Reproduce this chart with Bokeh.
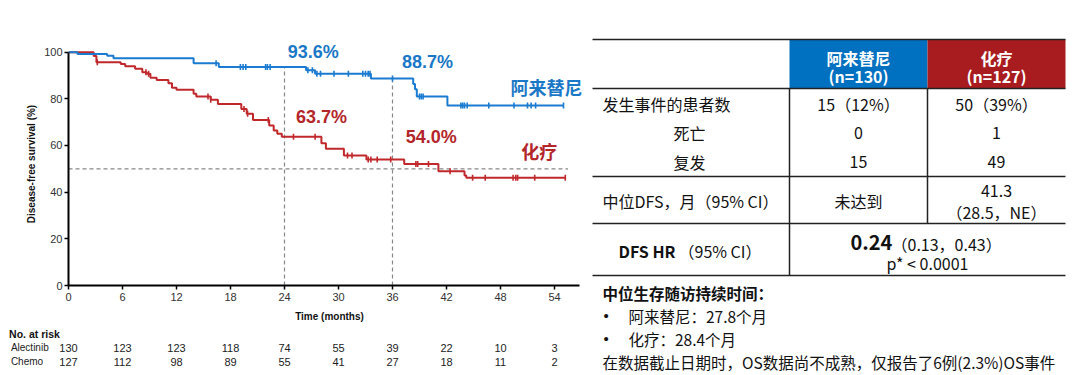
import numpy as np
from bokeh.plotting import figure
from bokeh.layouts import row, column
from bokeh.models import Range1d, FixedTicker
from bokeh.core.properties import value
from bokeh.embed import file_html
from bokeh.resources import INLINE

# ---------------- data ----------------
alec_t = [0, 1.0, 4.3, 5.0, 13.9, 16.7, 26.4, 27.4, 33.6, 38.3, 38.5, 38.7, 42.1, 55.0]
alec_s = [100, 99.2, 98.5, 97.4, 95.3, 93.6, 92.2, 90.8, 88.7, 86.4, 84.1, 81.0, 77.1, 77.1]
alec_cens = [16.4, 19.1, 19.4, 19.7, 21.9, 22.1, 22.4, 26.6, 27.1, 27.6, 28.0, 29.5, 31.1,
             32.7, 33.0, 33.3, 33.5, 36.0, 39.0, 39.2, 39.4, 43.6, 43.8, 44.0, 44.3, 46.7,
             49.5, 51.0, 51.4, 51.9, 55.0]

chemo_t = [0, 2.8, 3.1, 5.8, 6.3, 7.4, 8.2, 8.7, 9.1, 9.8, 11.1, 11.5, 12.0, 13.9, 14.2,
           15.8, 16.6, 19.2, 19.8, 20.5, 22.3, 22.8, 23.2, 23.7, 28.1, 28.6, 30.6, 33.1,
           37.3, 41.1, 44.0, 44.2, 55.2]
chemo_s = [100, 98.4, 95.7, 94.9, 94.0, 92.9, 91.4, 90.7, 89.0, 88.1, 86.7, 84.7, 83.9, 82.2,
           81.0, 79.6, 77.8, 75.6, 73.6, 70.9, 68.6, 66.4, 65.0, 63.7, 61.0, 58.6, 55.7, 54.0,
           52.1, 49.0, 47.1, 46.2, 46.2]
chemo_cens = [3.2, 8.6, 8.9, 15.5, 15.8, 19.5, 19.9, 22.2, 25.0, 27.4, 31.0, 31.5, 33.3,
              33.6, 34.3, 35.8, 38.6, 38.8, 40.0, 42.4, 44.9, 46.3, 49.4, 49.7, 49.9, 51.8, 55.2]

milestone_t = [24, 36]
alec_milestone = [93.6, 88.7]
chemo_milestone = [63.7, 54.0]
median_line = 50

risk_times = [0, 6, 12, 18, 24, 30, 36, 42, 48, 54]
risk_alec = [130, 123, 123, 118, 74, 55, 39, 22, 10, 3]
risk_chemo = [127, 112, 98, 89, 55, 41, 27, 18, 11, 2]

arm_names = ["阿来替尼", "化疗"]
arm_n = ["(n=130)", "(n=127)"]
row_labels = ["发生事件的患者数", "死亡", "复发", "中位DFS，月（95% CI）"]
events_all = ["15（12%）", "50（39%）"]
deaths = ["0", "1"]
relapses = ["15", "49"]
median_dfs = ["未达到", "41.3", "（28.5，NE）"]
hr_label = ["DFS HR", "（95% CI）"]
hr_value = ["0.24", "（0.13，0.43）"]
p_value = "p* < 0.0001"
notes_title = "中位生存随访持续时间："
notes_bullets = ["阿来替尼：27.8个月", "化疗：28.4个月"]
notes_last = "在数据截止日期时，OS数据尚不成熟，仅报告了6例(2.3%)OS事件"

BLUE = "#1a7bd0"
BLUE_TXT = "#1a78c6"
RED = "#c0282c"
RED_TXT = "#b3262a"
HDR_BLUE = "#0070c0"
HDR_RED = "#a81c1f"
LAT = "Liberation Sans"
CJK = "Noto Sans CJK SC"


def step_value(ts, ss, x):
    i = np.searchsorted(np.array(ts), np.array(x), side="right") - 1
    return list(np.array(ss)[i])


# ---------------- KM figure ----------------
km = figure(width=590, height=326, x_range=Range1d(0, 58), y_range=Range1d(0, 104.14),
            output_backend="svg", toolbar_location=None,
            min_border_left=68, min_border_right=0, min_border_top=42, min_border_bottom=41)
km.frame_align = False
km.outline_line_color = None
km.grid.visible = False

for ax in (km.xaxis[0], km.yaxis[0]):
    ax.axis_line_width = 2
    ax.axis_line_color = "black"
    ax.major_tick_line_width = 1.5
    ax.major_tick_line_color = "black"
    ax.major_tick_out = 4
    ax.major_tick_in = 0
    ax.minor_tick_line_color = None
    ax.major_label_text_font = LAT
    ax.major_label_text_font_size = "11px"
    ax.major_label_text_color = "#333333"
    ax.axis_label_text_font = LAT
    ax.axis_label_text_font_size = "10px"
    ax.axis_label_text_font_style = "bold"
    ax.axis_label_text_color = "#111111"

km.xaxis.ticker = FixedTicker(ticks=risk_times)
km.xaxis.bounds = (0, 56.8)
km.xaxis.axis_label = "Time (months)"
km.xaxis.major_label_standoff = 3
km.xaxis.axis_label_standoff = 7
km.yaxis.ticker = FixedTicker(ticks=[0, 20, 40, 60, 80, 100])
km.yaxis.bounds = (0, 100)
km.yaxis.axis_label = "Disease-free survival (%)"
km.yaxis.major_label_standoff = 2
km.yaxis.axis_label_standoff = 4

# reference lines
km.segment(x0=[0], y0=[median_line], x1=[55.5], y1=[median_line],
           line_color="#888888", line_dash="4 3", line_width=1.2)
km.segment(x0=milestone_t, y0=[0, 0], x1=milestone_t, y1=alec_milestone,
           line_color="#888888", line_dash="4 3", line_width=1.2)

km.step(chemo_t, chemo_s, mode="after", line_color=RED, line_width=2)
km.step(alec_t, alec_s, mode="after", line_color=BLUE, line_width=2)
km.scatter(chemo_cens, step_value(chemo_t, chemo_s, chemo_cens), marker="dash", angle=np.pi / 2,
           size=6, line_color=RED, line_width=1.6)
km.scatter(alec_cens, step_value(alec_t, alec_s, alec_cens), marker="dash", angle=np.pi / 2,
           size=6, line_color=BLUE, line_width=1.6)

km.text(x=[milestone_t[0] + 3.2, milestone_t[1] + 3.9], y=[alec_milestone[0] + 6.4, alec_milestone[1] + 7.0],
        text=[f"{v:.1f}%" for v in alec_milestone], text_font=value(LAT), text_font_style="bold",
        text_font_size="18px", text_color=BLUE_TXT, text_align="center", text_baseline="middle")
km.text(x=[milestone_t[0] + 4.1, milestone_t[1] + 4.3], y=[chemo_milestone[0] + 8.3, chemo_milestone[1] + 9.6],
        text=[f"{v:.1f}%" for v in chemo_milestone], text_font=value(LAT), text_font_style="bold",
        text_font_size="18px", text_color=RED_TXT, text_align="center", text_baseline="middle")
km.text(x=[53.1], y=[85.0], text=[arm_names[0]], text_font=value(CJK), text_font_style="bold",
        text_font_size="18px", text_color=BLUE_TXT, text_align="center", text_baseline="middle")
km.text(x=[52.3], y=[57.6], text=[arm_names[1]], text_font=value(CJK), text_font_style="bold",
        text_font_size="18px", text_color=RED_TXT, text_align="center", text_baseline="middle")

# ---------------- risk table ----------------
risk = figure(width=590, height=49, x_range=Range1d(-68 / 9, 58.0), y_range=Range1d(375, 326),
              output_backend="svg", toolbar_location=None, x_axis_type=None, y_axis_type=None,
              min_border=0)
risk.frame_align = False
risk.outline_line_color = None
risk.grid.visible = False
risk.text(x=[-6.6], y=[333], text=["No. at risk"], text_font=value(LAT), text_font_style="bold",
          text_font_size="10.5px", text_color="#111111", text_baseline="middle")
risk.text(x=[-6.4, -6.4], y=[347, 361], text=["Alectinib", "Chemo"], text_font=value(LAT),
          text_font_size="10px", text_color="#222222", text_baseline="middle")
risk.text(x=risk_times, y=[347] * len(risk_times), text=[str(v) for v in risk_alec],
          text_font=value(LAT), text_font_size="11px", text_color="#222222",
          text_align="center", text_baseline="middle")
risk.text(x=risk_times, y=[361] * len(risk_times), text=[str(v) for v in risk_chemo],
          text_font=value(LAT), text_font_size="11px", text_color="#222222",
          text_align="center", text_baseline="middle")

# ---------------- right table ----------------
tb = figure(width=490, height=375, x_range=Range1d(590, 1080), y_range=Range1d(375, 0),
            output_backend="svg", toolbar_location=None, x_axis_type=None, y_axis_type=None,
            min_border=0)
tb.frame_align = False
tb.outline_line_color = None
tb.grid.visible = False

L, C1, C2, R = 592, 789, 927, 1065
cx1, cx2 = (C1 + C2) / 2, (C2 + R) / 2
tb.quad(left=[C1, C2], right=[C2, R], top=[39, 39], bottom=[88, 88],
        fill_color=[HDR_BLUE, HDR_RED], line_color=None)
tb.segment(x0=[L] * 5, y0=[39, 88, 176, 223, 275], x1=[R] * 5, y1=[39, 88, 176, 223, 275],
           line_color="#222222", line_width=1.5)
tb.segment(x0=[C1, C2], y0=[88, 88], x1=[C1, C2], y1=[275, 223], line_color="#222222", line_width=1.5)


def txt(x, y, t, size="16px", bold=False, color="#111111", align="left", font=CJK):
    tb.text(x=x, y=y, text=t, text_font=value(font), text_font_size=size,
            text_font_style="bold" if bold else "normal", text_color=color,
            text_align=align, text_baseline="middle")


txt([cx1, cx2], [57, 57], arm_names, bold=True, color="white", align="center")
txt([cx1, cx2], [75, 75], arm_n, bold=True, color="white", align="center")
txt([602, 673, 673, 602], [103, 132, 161, 200], row_labels)
txt([cx1, cx2], [103, 103], events_all, align="center")
txt([cx1, cx2], [132, 132], deaths, align="center")
txt([cx1, cx2], [161, 161], relapses, align="center")
txt([cx1, cx2, cx2], [200, 190, 211], median_dfs, align="center")
txt([618], [250], [hr_label[0]], bold=True)
txt([678], [250], [hr_label[1]])
txt([850], [242], [hr_value[0]], size="20px", bold=True)
txt([891], [243], [hr_value[1]])
txt([(C1 + R) / 2], [262], [p_value], align="center")
txt([602], [292], [notes_title], size="15.5px", bold=True)
txt([603, 603], [315, 338], ["•", "•"], size="15px", font=LAT)
txt([628, 628], [315, 338], notes_bullets, size="15.5px")
txt([602], [361], [notes_last], size="15.5px")

layout = row(column(km, risk), tb)
open("out.html", "w").write(file_html(layout, INLINE))
